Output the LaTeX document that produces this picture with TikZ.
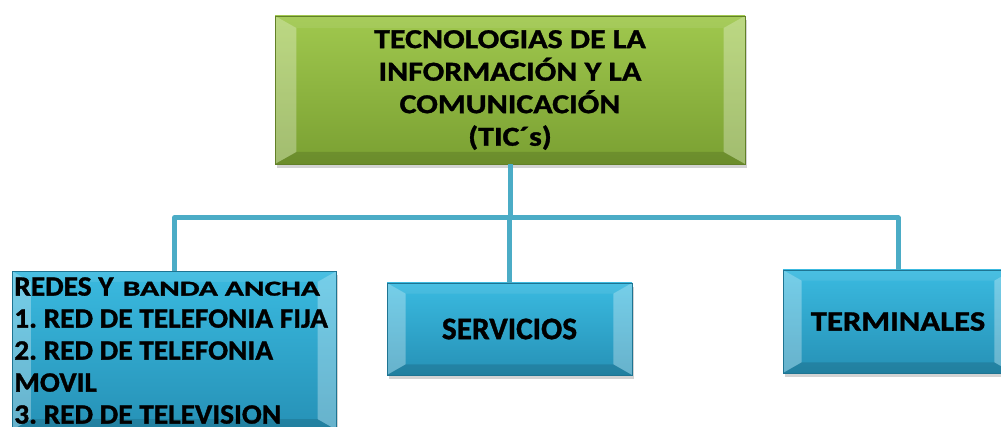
\documentclass[tikz,border=0pt]{standalone}
\usepackage{fontspec}
\setmainfont{Carlito}[BoldFeatures={FakeBold=1.2}]
\newfontfamily\widefont{Carlito}[FakeStretch=1.17,BoldFeatures={FakeBold=1.2}]
\newfontfamily\listfont{Carlito}[FakeStretch=1.05,BoldFeatures={FakeBold=1.2}]
\usetikzlibrary{shadows}
\frenchspacing

\definecolor{linkblue}{RGB}{75,172,198}
\definecolor{bluetop}{RGB}{58,186,224}
\definecolor{bluebot}{RGB}{38,145,182}
\definecolor{greentop}{RGB}{160,200,78}
\definecolor{greenbot}{RGB}{122,160,50}

\tikzset{
  bevel/.style 2 args={path picture={
    \fill[white,opacity=.3] (path picture bounding box.north west) -- ([xshift=#1,yshift=-#2]path picture bounding box.north west)
      -- ([xshift=#1,yshift=#2]path picture bounding box.south west) -- (path picture bounding box.south west) -- cycle;
    \fill[white,opacity=.3] (path picture bounding box.north east) -- ([xshift=-#1,yshift=-#2]path picture bounding box.north east)
      -- ([xshift=-#1,yshift=#2]path picture bounding box.south east) -- (path picture bounding box.south east) -- cycle;
    \fill[white,opacity=.08] (path picture bounding box.north west) -- ([xshift=#1,yshift=-#2]path picture bounding box.north west)
      -- ([xshift=-#1,yshift=-#2]path picture bounding box.north east) -- (path picture bounding box.north east) -- cycle;
    \fill[black,opacity=.12] (path picture bounding box.south west) -- ([xshift=#1,yshift=#2]path picture bounding box.south west)
      -- ([xshift=-#1,yshift=#2]path picture bounding box.south east) -- (path picture bounding box.south east) -- cycle;
  }},
  box/.style={inner sep=0pt, drop shadow={shadow xshift=1.5pt,shadow yshift=-3pt,opacity=.35}},
  greenbox/.style={box, draw=greenbot!80!black, line width=.4pt, top color=greentop, bottom color=greenbot, bevel={16pt}{9pt}},
  bluebox/.style={box, draw=bluebot!80!black, line width=.4pt, top color=bluetop, bottom color=bluebot, bevel={14pt}{8pt}},
  conn/.style={draw=linkblue, line width=3.75pt, line join=round}
}

\begin{document}
\begin{tikzpicture}[x=0.75pt,y=-0.75pt]
\useasboundingbox (0,0) rectangle (1001,427);
\clip (0,0) rectangle (1001,427);

% top box
\node[greenbox, minimum width=352.5pt, minimum height=111pt, align=center,
      font=\widefont\fontsize{20.5}{24.4}\selectfont\bfseries] (tic) at (510,90)
  {TECNOLOGIAS DE LA\\INFORMACIÓN Y LA\\COMUNICACIÓN\\(TIC´s)};

% second level
\node[bluebox, anchor=north west, text width=240pt, inner xsep=1.5pt, inner ysep=4.5pt, align=flush left,
      font=\listfont\fontsize{21}{24}\selectfont\bfseries] (redes) at (12,271)
  {REDES Y\hspace{2pt} {\fontsize{16}{24}\selectfont\scalebox{1.4}[1]{BANDA ANCHA}}\\
   1. RED DE TELEFONIA FIJA\\
   2. RED DE TELEFONIA\\
   MOVIL\\
   3. RED DE TELEVISION};
\node[bluebox, minimum width=183.75pt, minimum height=69pt,
      font=\fontsize{23.5}{27}\selectfont\bfseries] (serv) at (509.5,329) {SERVICIOS};
\node[bluebox, minimum width=172.5pt, minimum height=77.25pt,
      font=\widefont\fontsize{21}{25}\selectfont\bfseries] (term) at (898,321.5) {TERMINALES};

% connectors
\coordinate (bus) at (510,218);
\draw[conn] (tic.south) -- (bus);
\draw[conn] (bus) -| (redes.north);
\draw[conn] (bus) -| (serv.north);
\draw[conn] (bus) -| (term.north);

\end{tikzpicture}
\end{document}
